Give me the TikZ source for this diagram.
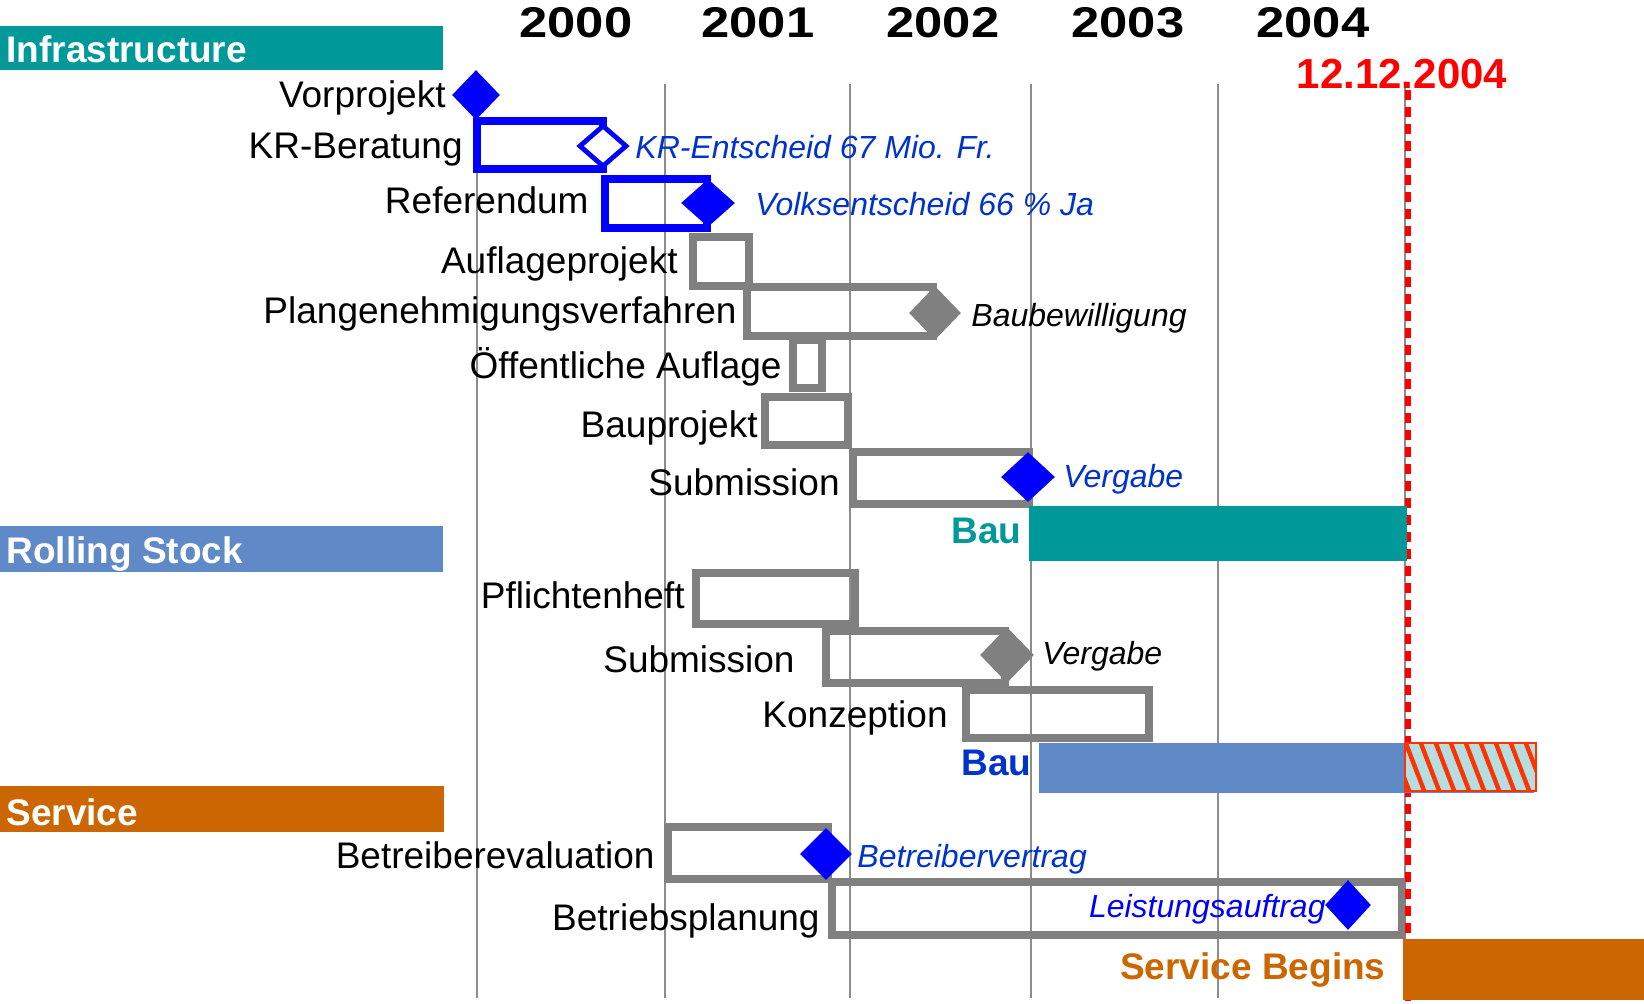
\documentclass[tikz,border=0pt]{standalone}
\usepackage{fontspec}
\setmainfont{Liberation Sans}
\usetikzlibrary{shapes.geometric}
\definecolor{tealc}{HTML}{009999}
\definecolor{steel}{HTML}{5F8AC7}
\definecolor{orng}{HTML}{CC6600}
\definecolor{grc}{HTML}{808080}
\definecolor{gridc}{HTML}{8C8C8C}
\definecolor{blc}{HTML}{0000FF}
\definecolor{dblue}{HTML}{0033CC}
\definecolor{hatchbg}{HTML}{B4DEE0}
\definecolor{hatchred}{HTML}{FF3300}
\definecolor{redc}{HTML}{FF0000}
\begin{document}
\begin{tikzpicture}[x=0.5pt,y=-0.5pt,
  lbl/.style={font=\fontsize{18.5}{20}\selectfont, anchor=base east, inner sep=0pt},
  blbl/.style={font=\fontsize{18.5}{20}\selectfont\bfseries, anchor=base east, inner sep=0pt},
  hdr/.style={font=\fontsize{18.5}{20}\selectfont\bfseries, text=white, anchor=base west, inner sep=0pt},
  note/.style={font=\fontsize{16}{18}\selectfont\itshape, anchor=base west, inner sep=0pt},
  yr/.style={font=\fontsize{21.5}{24}\selectfont\bfseries, anchor=base, inner sep=0pt},
  gridline/.style={draw=gridc, line width=1pt},
  gbox/.style={draw=grc, line width=3.75pt},
  bbox/.style={draw=blc, line width=3.75pt},
  milestone/.style={diamond, inner sep=0pt, draw=none},
  bar/.style={draw=none}
]
\useasboundingbox (0,0) rectangle (1644,1003);

% grid lines
\foreach \gx in {477,665,850,1031,1218,1405}
  \draw[gridline] (\gx,84) -- (\gx,998);

% header bars
\fill[tealc] (0,26) rectangle (443,70);
\fill[steel] (0,526) rectangle (443,572);
\fill[orng] (0,786) rectangle (444,832);
\node[hdr] (hinf) at (6,62) {Infrastructure};
\node[hdr] (hrs) at (6,563) {Rolling Stock};
\node[hdr] (hsv) at (6,825) {Service};

% years
\node[yr] (y2000) at (576,37) {\scalebox{1.18}[1]{2000}};
\node[yr] (y2001) at (758,37) {\scalebox{1.18}[1]{2001}};
\node[yr] (y2002) at (943,37) {\scalebox{1.18}[1]{2002}};
\node[yr] (y2003) at (1128,37) {\scalebox{1.18}[1]{2003}};
\node[yr] (y2004) at (1313,37) {\scalebox{1.18}[1]{2004}};

% boxes (infrastructure)
\draw[bbox] (477,121) rectangle (603,169);
\draw[bbox] (605,179) rectangle (707,228);
\draw[gbox] (693,237) rectangle (749,286);
\draw[gbox] (747,287) rectangle (933,336);
\draw[gbox] (793,340) rectangle (822,388);
\draw[gbox] (765,397) rectangle (848,445);
\draw[gbox] (853,452) rectangle (1029,504);
% rolling stock
\draw[gbox] (696,573) rectangle (855,624);
\draw[gbox] (826,631) rectangle (1005,683);
\draw[gbox] (966,690) rectangle (1149,738);
% service
\draw[gbox] (668,827) rectangle (828,879);
\draw[gbox] (832,882) rectangle (1402,935);

% red date line
\node[font=\fontsize{21}{24}\selectfont\bfseries, text=redc, anchor=base, inner sep=0pt] (date) at (1402,88) {12.12.2004};
\draw[redc, line width=3.4pt, dash pattern=on 5pt off 3.5pt] (1408,90) -- (1408,1003);

% milestones
\node[milestone, fill=blc, minimum width=24pt, minimum height=25pt] (m1) at (476,95) {};
\node[diamond, inner sep=0pt, draw=blc, line width=2.4pt, fill=white, minimum width=24pt, minimum height=21pt] (m2) at (603,146) {};
\node[milestone, fill=blc, minimum width=27pt, minimum height=24pt] (m3) at (708,203) {};
\node[milestone, fill=grc, minimum width=26pt, minimum height=27pt] (m4) at (935,313) {};
\node[milestone, fill=blc, minimum width=27pt, minimum height=25pt] (m5) at (1028,477) {};
\node[milestone, fill=grc, minimum width=27pt, minimum height=28pt] (m6) at (1007,655) {};
\node[milestone, fill=blc, minimum width=26pt, minimum height=26pt] (m7) at (826,854) {};
\node[milestone, fill=blc, minimum width=23pt, minimum height=25pt] (m8) at (1348,905) {};

% bars
\fill[tealc] (1029,506) rectangle (1407,561);
\fill[steel] (1039,743) rectangle (1534,793);
\begin{scope}
  \clip (1405,743) rectangle (1536,791);
  \fill[hatchbg] (1405,743) rectangle (1536,791);
  \foreach \i in {-3,...,10}
    \draw[hatchred, line width=2.2pt] ({1405+\i*15},741) -- ({1405+\i*15+20},793);
\end{scope}
\draw[hatchred, line width=1.2pt] (1405,743) rectangle (1536,791);
\fill[orng] (1403,939) rectangle (1644,1000);

% task labels
\node[lbl] (t1) at (446,107) {Vorprojekt};
\node[lbl] (t2) at (463,158) {KR-Beratung};
\node[lbl] (t3) at (589,213) {Referendum};
\node[lbl] (t4) at (678,273) {Auflageprojekt};
\node[lbl] (t5) at (737,323) {Plangenehmigungsverfahren};
\node[lbl] (t6) at (782,378) {Öffentliche Auflage};
\node[lbl] (t7) at (758,437) {Bauprojekt};
\node[lbl] (t8) at (840,495) {Submission};
\node[lbl] (t9) at (685,608) {Pflichtenheft};
\node[lbl] (t10) at (795,672) {Submission};
\node[lbl] (t11) at (948,727) {Konzeption};
\node[lbl] (t12) at (655,868) {Betreiberevaluation};
\node[lbl] (t13) at (820,930) {Betriebsplanung};

\node[blbl, text=tealc] (bau1) at (1022,543) {Bau};
\node[blbl, text=dblue] (bau2) at (1032,775) {Bau};
\node[blbl, text=orng] (sb) at (1386,979) {Service Begins};

% notes
\node[note, text=dblue] (n1) at (635,158) {KR-Entscheid 67 Mio. Fr.};
\node[note, text=dblue] (n2) at (755,215) {Volksentscheid 66 \% Ja};
\node[note, text=black] (n3) at (971,326) {Baubewilligung};
\node[note, text=dblue] (n4) at (1063,487) {Vergabe};
\node[note, text=black] (n5) at (1042,664) {Vergabe};
\node[note, text=dblue] (n6) at (857,867) {Betreibervertrag};
\node[note, text=blc, anchor=base east] (n7) at (1326,917) {Leistungsauftrag};
\end{tikzpicture}
\end{document}
